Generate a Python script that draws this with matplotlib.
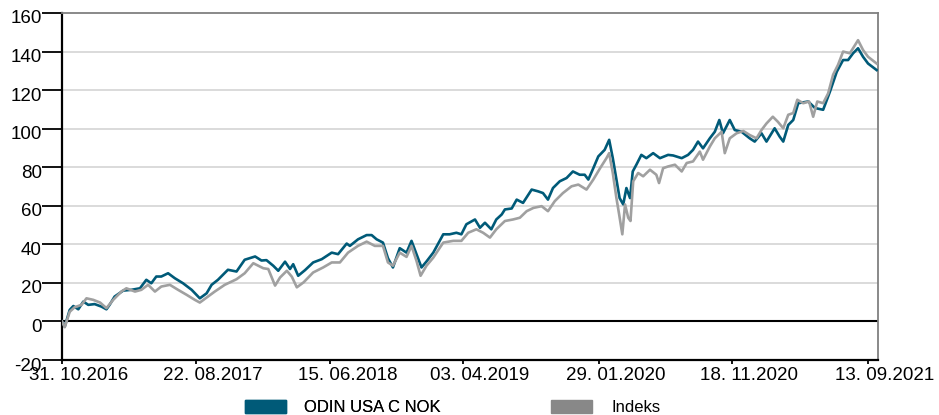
import matplotlib
matplotlib.use("Agg")
import matplotlib.pyplot as plt
import matplotlib.transforms as mtransforms
from matplotlib.patches import Patch
import pandas as pd

plt.rcParams['font.family'] = ['Liberation Sans', 'DejaVu Sans']
plt.rcParams['axes.unicode_minus'] = False

# ODIN USA C NOK, akkumulert avkastning (%)
odin_dates = [
    "2016-10-31", "2016-11-06", "2016-11-17", "2016-11-25", "2016-12-06", "2016-12-17",
    "2016-12-28", "2017-01-11", "2017-01-26", "2017-02-06", "2017-02-13", "2017-02-24",
    "2017-03-15", "2017-04-02", "2017-04-21", "2017-05-05", "2017-05-16", "2017-05-27",
    "2017-06-07", "2017-06-22", "2017-07-07", "2017-07-25", "2017-08-13", "2017-08-31",
    "2017-09-15", "2017-09-26", "2017-10-10", "2017-11-01", "2017-11-20", "2017-12-08",
    "2017-12-31", "2018-01-14", "2018-01-25", "2018-02-09", "2018-02-20", "2018-03-07",
    "2018-03-18", "2018-03-25", "2018-04-05", "2018-04-20", "2018-05-08", "2018-05-27",
    "2018-06-18", "2018-07-02", "2018-07-21", "2018-07-28", "2018-08-15", "2018-09-03",
    "2018-09-14", "2018-09-25", "2018-10-09", "2018-10-20", "2018-10-31", "2018-11-15",
    "2018-11-30", "2018-12-11", "2018-12-22", "2019-01-02", "2019-01-13", "2019-01-28",
    "2019-02-19", "2019-03-05", "2019-03-20", "2019-03-31", "2019-04-11", "2019-04-30",
    "2019-05-11", "2019-05-22", "2019-06-05", "2019-06-16", "2019-06-28", "2019-07-05",
    "2019-07-20", "2019-07-31", "2019-08-14", "2019-09-02", "2019-09-16", "2019-09-27",
    "2019-10-08", "2019-10-19", "2019-11-03", "2019-11-18", "2019-12-02", "2019-12-17",
    "2019-12-28", "2020-01-05", "2020-01-16", "2020-01-27", "2020-02-10", "2020-02-20",
    "2020-02-28", "2020-03-07", "2020-03-14", "2020-03-22", "2020-03-29", "2020-04-06",
    "2020-04-12", "2020-04-20", "2020-05-01", "2020-05-12", "2020-05-27", "2020-06-11",
    "2020-06-29", "2020-07-10", "2020-07-29", "2020-08-12", "2020-08-23", "2020-09-03",
    "2020-09-14", "2020-09-29", "2020-10-10", "2020-10-20", "2020-10-28", "2020-11-12",
    "2020-11-23", "2020-12-08", "2020-12-26", "2021-01-06", "2021-01-21", "2021-02-01",
    "2021-02-19", "2021-03-02", "2021-03-10", "2021-03-21", "2021-04-01", "2021-04-12",
    "2021-05-04", "2021-05-19", "2021-06-06", "2021-06-21", "2021-07-06", "2021-07-20",
    "2021-07-31", "2021-08-11", "2021-08-22", "2021-09-02", "2021-09-13", "2021-10-02",
]
odin_values = [
    0, -2.7, 6, 8, 6.3, 10.3,
    8.6, 9, 7.7, 6.3, 8.6, 12.9,
    16, 16.4, 17.2, 21.6, 19.8, 23.3,
    23.3, 25, 22.4, 19.8, 16.4, 12,
    14.6, 19, 21.6, 26.8, 25.9, 32,
    33.7, 31.6, 31.8, 28.9, 26.3, 31,
    27.2, 29.7, 23.7, 26.6, 30.6, 32.3,
    35.7, 34.9, 40.4, 39.2, 42.6, 44.8,
    44.8, 42.6, 40.9, 32.8, 28, 38,
    35.7, 41.8, 34.9, 28, 31.1, 35.7,
    45.2, 45.2, 46, 45.2, 50.4, 52.9,
    48.6, 51.2, 47.8, 52.9, 55.5, 58.1,
    58.6, 63.2, 61.5, 68.4, 67.5, 66.6,
    63.2, 69.2, 72.7, 74.4, 77.8, 76.1,
    76.1, 73.6, 79.5, 85.6, 89, 94.2,
    84.7, 73.6, 64, 60.7, 69.2, 64,
    77.8, 81.3, 86.4, 84.7, 87.3, 84.7,
    86.4, 86.1, 84.7, 86.4, 89, 93.3,
    89.8, 95, 98.4, 104.5, 97.6, 104.5,
    99.3, 98.4, 95, 93.3, 97.6, 93.3,
    100.2, 95.9, 93.3, 101.9, 104.5, 113.2,
    114.1, 110.7, 109.8, 119.2, 129.5, 135.6,
    135.6, 139.1, 141.7, 137.3, 133.8, 130.4,
]

# Indeks
idx_dates = [
    "2016-10-31", "2016-11-06", "2016-11-17", "2016-11-28", "2016-12-13", "2016-12-24",
    "2017-01-08", "2017-01-23", "2017-02-06", "2017-02-21", "2017-03-11", "2017-03-22",
    "2017-04-10", "2017-04-24", "2017-05-09", "2017-05-24", "2017-06-07", "2017-06-26",
    "2017-07-14", "2017-08-02", "2017-08-20", "2017-08-31", "2017-09-18", "2017-10-03",
    "2017-10-25", "2017-11-20", "2017-12-08", "2017-12-27", "2018-01-18", "2018-01-29",
    "2018-02-13", "2018-02-24", "2018-03-11", "2018-03-22", "2018-04-02", "2018-04-17",
    "2018-05-08", "2018-05-30", "2018-06-18", "2018-07-06", "2018-07-24", "2018-08-15",
    "2018-09-03", "2018-09-21", "2018-10-09", "2018-10-20", "2018-10-31", "2018-11-15",
    "2018-11-30", "2018-12-11", "2018-12-22", "2018-12-31", "2019-01-13", "2019-01-28",
    "2019-02-19", "2019-03-13", "2019-03-31", "2019-04-15", "2019-05-03", "2019-05-18",
    "2019-06-02", "2019-06-16", "2019-07-05", "2019-07-23", "2019-08-07", "2019-08-22",
    "2019-09-06", "2019-09-24", "2019-10-08", "2019-10-23", "2019-11-10", "2019-11-29",
    "2019-12-14", "2020-01-01", "2020-01-16", "2020-01-31", "2020-02-14", "2020-02-20",
    "2020-02-28", "2020-03-07", "2020-03-13", "2020-03-20", "2020-03-26", "2020-04-02",
    "2020-04-07", "2020-04-13", "2020-04-24", "2020-05-05", "2020-05-20", "2020-06-03",
    "2020-06-09", "2020-06-18", "2020-06-29", "2020-07-14", "2020-07-29", "2020-08-09",
    "2020-08-23", "2020-09-07", "2020-09-14", "2020-09-29", "2020-10-10", "2020-10-25",
    "2020-11-01", "2020-11-12", "2020-11-27", "2020-12-12", "2020-12-26", "2021-01-10",
    "2021-01-21", "2021-02-01", "2021-02-15", "2021-02-26", "2021-03-10", "2021-03-21",
    "2021-04-01", "2021-04-10", "2021-04-23", "2021-05-06", "2021-05-15", "2021-05-24",
    "2021-06-06", "2021-06-17", "2021-06-28", "2021-07-09", "2021-07-20", "2021-08-04",
    "2021-08-13", "2021-08-22", "2021-09-02", "2021-09-13", "2021-10-02",
]
idx_values = [
    0, -3, 5, 7.4, 8.6, 12,
    11.2, 9.8, 6.9, 11.2, 15.5, 17.2,
    15.5, 16.4, 19, 15.5, 18.1, 19,
    16.4, 13.8, 11.2, 9.8, 12.9, 15.5,
    19, 21.9, 25, 30.2, 27.6, 27.2,
    18.6, 22.8, 26.3, 23.2, 17.7, 20.3,
    25.4, 28, 30.6, 30.6, 35.7, 39.2,
    41.4, 39.2, 39.2, 30.6, 28.9, 35.7,
    33.5, 39.2, 31.4, 23.7, 28.9, 33.1,
    40.9, 41.8, 41.8, 46, 47.8, 46,
    43.5, 47.8, 52.1, 52.9, 53.8, 57.2,
    58.9, 59.8, 57.2, 62.4, 66.6, 70.1,
    71, 68.4, 73.6, 79.5, 84.7, 87.3,
    77, 64, 55.5, 45.2, 60.7, 53.8,
    52.1, 72.7, 77, 75.3, 78.7, 76.1,
    71.8, 79.5, 80.4, 81.3, 77.8, 82.2,
    83, 88.1, 83.9, 90.7, 95, 98.4,
    87.3, 95, 97.6, 98.8, 96.7, 95,
    99.3, 102.7, 106.2, 103.6, 100.2, 107.2,
    108.1, 115, 113.2, 114.1, 106.2, 114.1,
    113.2, 118.3, 128, 133.2, 140, 139.1,
    142.5, 145.9, 140.8, 137.3, 133.8,
]

tick_dates = ["2016-10-31", "2017-08-22", "2018-06-15", "2019-04-03",
              "2020-01-29", "2020-11-18", "2021-09-13"]
tick_labels = ["31. 10.2016", "22. 08.2017", "15. 06.2018", "03. 04.2019",
               "29. 01.2020", "18. 11.2020", "13. 09.2021"]
y_ticks = [-20, 0, 20, 40, 60, 80, 100, 120, 140, 160]

blue = "#005a78"
grey_line = "#a0a0a0"
grey_patch = "#888888"

fig = plt.figure(figsize=(9.39, 4.15), dpi=100)
ax = fig.add_axes([62 / 939, 1 - 360 / 415, (878 - 62) / 939, (360 - 13) / 415])

ax.plot(pd.to_datetime(odin_dates), odin_values, color=blue, lw=1.9, zorder=3)
ax.plot(pd.to_datetime(idx_dates), idx_values, color=grey_line, lw=1.9, zorder=4)

ax.set_ylim(-20, 160)
ax.set_xlim(pd.Timestamp("2016-10-31"), pd.Timestamp("2021-10-05"))
ax.set_yticks(y_ticks)
ax.set_xticks(pd.to_datetime(tick_dates))
ax.set_xticklabels(tick_labels)

for v in y_ticks[2:-1]:
    ax.axhline(v, color="#d4d4d4", lw=1.2, zorder=1)
ax.axhline(0, color="black", lw=1.5, zorder=2)

ax.spines["left"].set_color("black")
ax.spines["left"].set_linewidth(1.6)
ax.spines["bottom"].set_color("black")
ax.spines["bottom"].set_linewidth(1.6)
ax.spines["top"].set_color("#808080")
ax.spines["top"].set_linewidth(1.3)
ax.spines["right"].set_color("#808080")
ax.spines["right"].set_linewidth(1.3)

ax.tick_params(axis="y", length=14.5, width=1.3, pad=0, labelsize=13.5, colors="black")
ax.tick_params(axis="x", length=3, width=1.3, pad=2, labelsize=13.5, colors="black")

# tallene ligger litt under strekene i originalen
dy = mtransforms.ScaledTranslation(0, -4 / 100, fig.dpi_scale_trans)
for lab in ax.get_yticklabels():
    lab.set_transform(lab.get_transform() + dy)
dx = mtransforms.ScaledTranslation(17 / 100, 0, fig.dpi_scale_trans)
for lab in ax.get_xticklabels():
    lab.set_transform(lab.get_transform() + dx)

leg1 = fig.legend(handles=[Patch(color=blue, label="ODIN USA C NOK")],
                  loc="lower left", bbox_to_anchor=(245 / 939, 0.0),
                  frameon=False, fontsize=12, handlelength=2.45, handleheight=0.8,
                  handletextpad=1.1, borderpad=0, borderaxespad=0)
leg2 = fig.legend(handles=[Patch(color=grey_patch, label="Indeks")],
                  loc="lower left", bbox_to_anchor=(551 / 939, 0.0),
                  frameon=False, fontsize=12, handlelength=2.45, handleheight=0.8,
                  handletextpad=1.2, borderpad=0, borderaxespad=0)
fig.add_artist(leg1)

fig.savefig("out.png", dpi=100)
